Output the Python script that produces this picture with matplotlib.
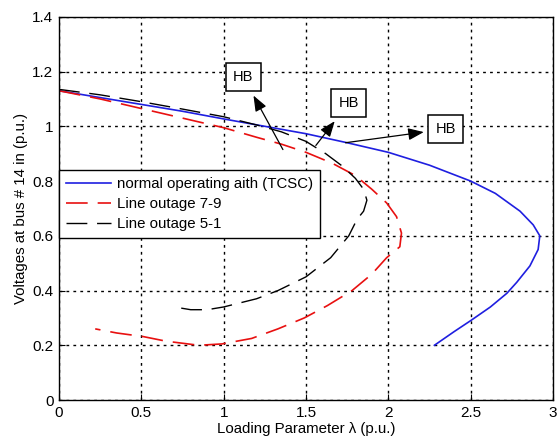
import matplotlib
matplotlib.use("Agg")
import matplotlib.pyplot as plt
from matplotlib.ticker import FuncFormatter

plt.rcParams['font.family'] = ['Liberation Sans', 'DejaVu Sans']

# PV curves: loading parameter (p.u.) vs voltage at bus 14 (p.u.)
lam_normal = [0.0, 0.25, 0.5, 0.75, 1.0, 1.25, 1.5, 1.75, 2.0, 2.25, 2.5, 2.65,
              2.8, 2.88, 2.92, 2.91, 2.86, 2.78, 2.72, 2.62, 2.5, 2.4, 2.28]
v_normal = [1.13, 1.105, 1.08, 1.055, 1.027, 1.0, 0.973, 0.94, 0.905, 0.858, 0.80,
            0.755, 0.69, 0.64, 0.6, 0.55, 0.49, 0.43, 0.39, 0.34, 0.29, 0.25, 0.2]

lam_out79 = [0.0, 0.25, 0.5, 0.75, 1.0, 1.2, 1.35, 1.5, 1.66, 1.8, 1.9, 1.99, 2.05,
             2.08, 2.07, 1.99, 1.9, 1.78, 1.63, 1.49, 1.33, 1.17, 0.99, 0.85,
             0.65, 0.51, 0.35, 0.22]
v_out79 = [1.13, 1.1, 1.065, 1.03, 0.995, 0.96, 0.935, 0.905, 0.865, 0.82, 0.77,
           0.72, 0.67, 0.61, 0.56, 0.52, 0.46, 0.40, 0.345, 0.30, 0.26, 0.225,
           0.205, 0.2, 0.215, 0.232, 0.245, 0.26]

lam_out51 = [0.0, 0.25, 0.5, 0.75, 1.0, 1.2, 1.35, 1.5, 1.62, 1.72, 1.8, 1.85,
             1.87, 1.85, 1.81, 1.76, 1.65, 1.5, 1.33, 1.2, 1.0, 0.9, 0.8, 0.7]
v_out51 = [1.135, 1.115, 1.09, 1.063, 1.035, 1.005, 0.98, 0.945, 0.9, 0.855, 0.81,
           0.77, 0.73, 0.69, 0.66, 0.60, 0.52, 0.45, 0.40, 0.37, 0.34, 0.33,
           0.33, 0.34]

legend_labels = ["normal operating aith (TCSC)", "Line outage 7-9", "Line outage 5-1"]

# HB markers: (text position, arrow tail on the curves)
hb_text = [(1.12, 1.18), (1.76, 1.085), (2.35, 0.99)]
hb_tail = [(1.36, 0.915), (1.56, 0.93), (1.74, 0.94)]

x_ticks = [0, 0.5, 1, 1.5, 2, 2.5, 3]
y_ticks = [0, 0.2, 0.4, 0.6, 0.8, 1.0, 1.2, 1.4]

fig = plt.figure(figsize=(5.59, 4.43), dpi=100)
ax = fig.add_axes([0.1055, 0.097, 0.8837, 0.865])

ax.plot(lam_normal, v_normal, color='#1f1fe0', lw=1.2, label=legend_labels[0])
ax.plot(lam_out79, v_out79, color='#e81010', lw=1.2, dashes=(13, 6),
        label=legend_labels[1])
ax.plot(lam_out51, v_out51, color='black', lw=1.0, dashes=(15, 7),
        label=legend_labels[2])

for (tx, ty), (sx, sy) in zip(hb_text, hb_tail):
    ax.annotate('HB', xy=(sx, sy), xytext=(tx, ty), ha='center', va='center',
                fontsize=10.5,
                bbox=dict(boxstyle='square,pad=0.5', fc='white', ec='black', lw=1.1),
                arrowprops=dict(arrowstyle='<|-,head_length=0.9,head_width=0.35',
                                color='black', lw=0.9, shrinkA=3, shrinkB=0))

ax.set_xlim(0, 3)
ax.set_ylim(0, 1.4)
ax.set_xticks(x_ticks)
ax.set_yticks(y_ticks)
fmt = FuncFormatter(lambda v, p: ('%g' % round(v, 2)))
ax.xaxis.set_major_formatter(fmt)
ax.yaxis.set_major_formatter(fmt)
ax.tick_params(direction='in', length=4, labelsize=11, colors='black', pad=4)
ax.grid(True, color='black', linestyle=(0, (2, 3)), lw=1.0)
for s in ax.spines.values():
    s.set_linewidth(1.0)

ax.set_xlabel('Loading Parameter λ (p.u.)', fontsize=10.8, labelpad=2)
ax.set_ylabel('Voltages at bus # 14 in (p.u.)', fontsize=10.8, labelpad=3)

leg = ax.legend(loc='upper left', bbox_to_anchor=(0.0, 0.6), fontsize=10.8,
                fancybox=False, framealpha=1, edgecolor='black', borderaxespad=0,
                handlelength=3.0, handletextpad=0.4, borderpad=0.45,
                labelspacing=0.4)
leg.get_frame().set_linewidth(1.0)

fig.savefig('out.png', dpi=100)
